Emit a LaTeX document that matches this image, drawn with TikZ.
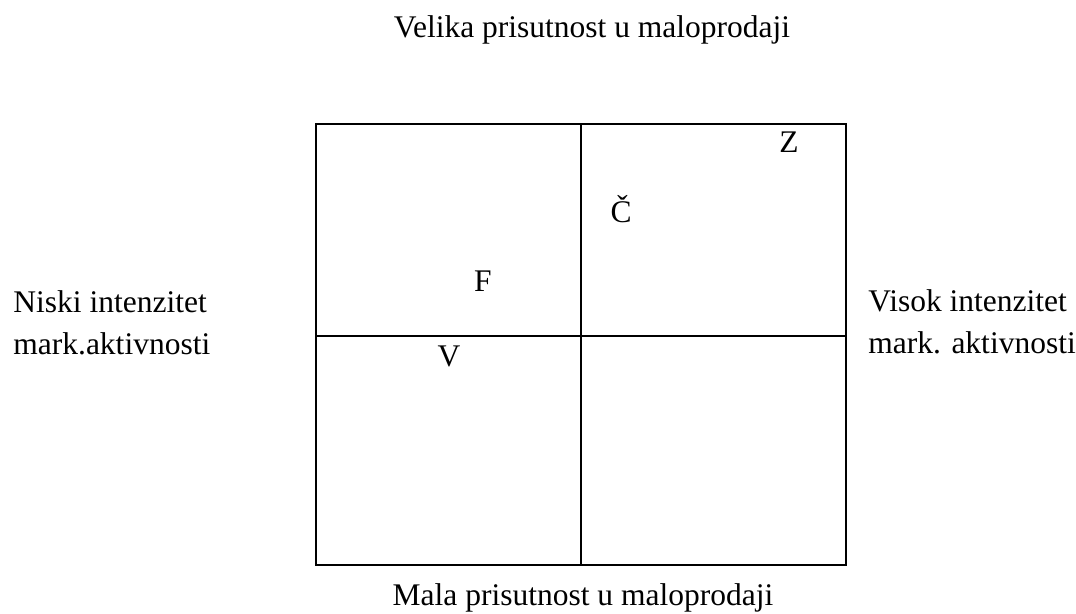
\documentclass[tikz,border=0pt]{standalone}
\usepackage{fontspec}
\setmainfont{Liberation Serif}
\begin{document}
\begin{tikzpicture}[x=0.5pt,y=-0.5pt,
  lbl/.style={inner sep=0pt, font=\fontsize{15.75}{19}\selectfont},
  gridline/.style={line width=1.25pt, line cap=rect}]
\useasboundingbox (0,0) rectangle (1076,614);
\coordinate (tl) at (316,124);
\coordinate (br) at (846,565);
\coordinate (mt) at (581,124);
\coordinate (mb) at (581,565);
\coordinate (ml) at (316,336);
\coordinate (mr) at (846,336);
\draw[gridline] (tl) rectangle (br);
\draw[gridline] (mt) -- (mb);
\draw[gridline] (ml) -- (mr);
\node[lbl, anchor=base] (title) at (592,38) {Velika prisutnost u maloprodaji};
\node[lbl, anchor=base] (bottom) at (583,605) {Mala prisutnost u maloprodaji};
\node[lbl, anchor=base west] (leftA) at (13,313) {Niski intenzitet};
\node[lbl, anchor=base west] (leftB) at (13,355) {mark.aktivnosti};
\node[lbl, anchor=base west] (rightA) at (868,312) {Visok intenzitet};
\node[lbl, anchor=base west] (rightB) at (868,354) {mark. aktivnosti};
\node[lbl, anchor=base] (F) at (483,292) {F};
\node[lbl, anchor=base] (V) at (449,367) {V};
\node[lbl, anchor=base] (Z) at (789,153) {Z};
\node[lbl, anchor=base] (C) at (621,223) {Č};
\end{tikzpicture}
\end{document}
